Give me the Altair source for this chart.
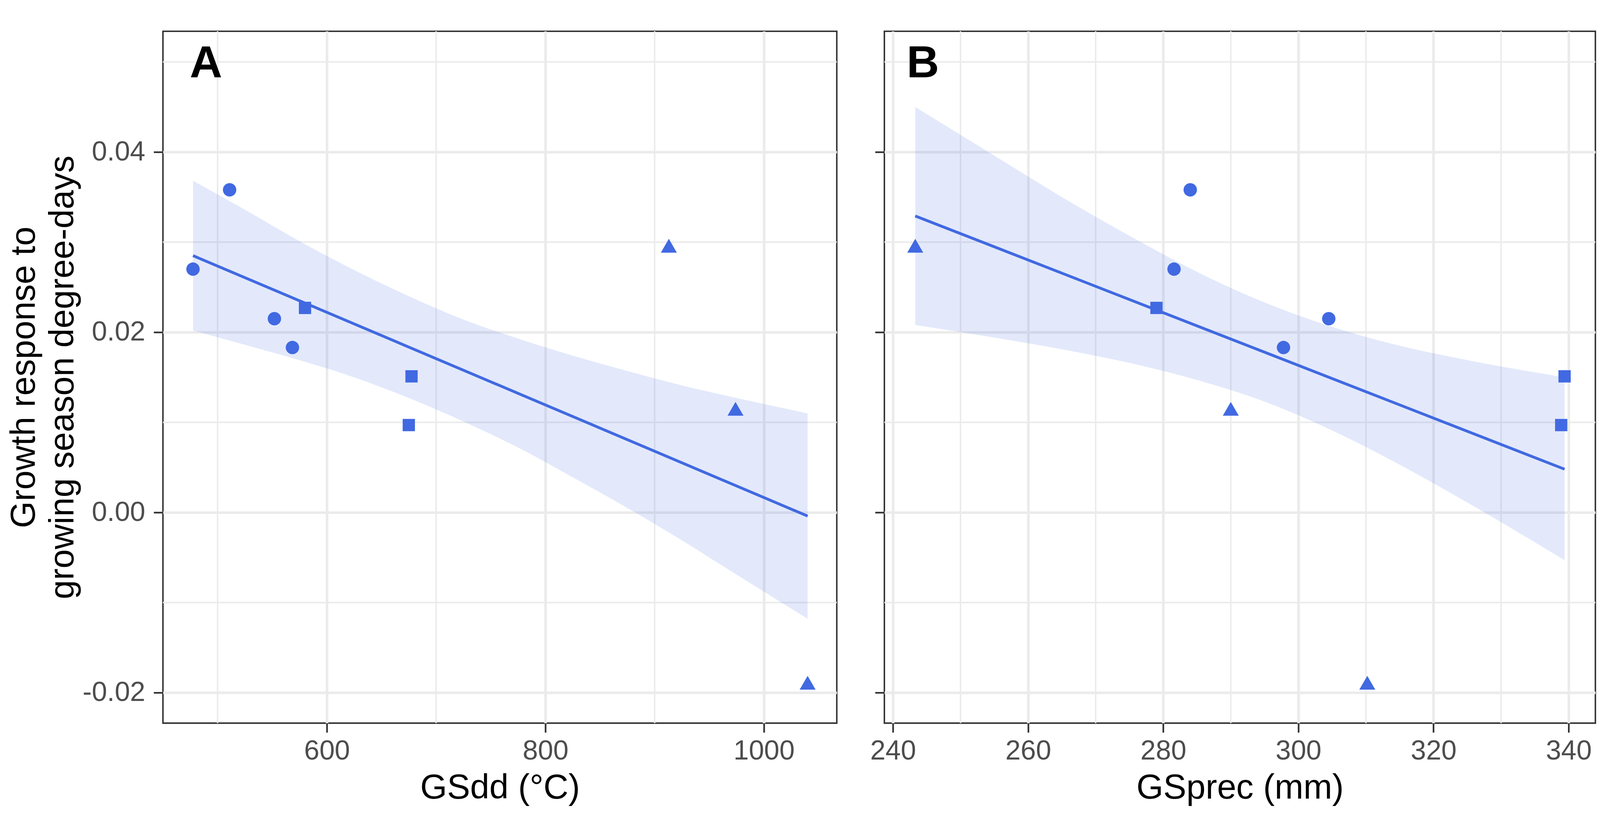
import altair as alt
import pandas as pd

# ---------------- data ----------------
site_group = ["Group 1", "Group 1", "Group 1", "Group 1", "Group 2",
              "Group 2", "Group 2", "Group 3", "Group 3", "Group 3"]
gsdd = [477.5, 511.0, 552.0, 568.5, 580.0, 677.5, 675.0, 913.0, 974.0, 1040.0]
gsprec = [281.6, 284.0, 304.5, 297.8, 279.0, 339.4, 338.9, 243.3, 290.0, 310.2]
response = [0.0270, 0.0358, 0.0215, 0.0183, 0.0227, 0.0151, 0.0097, 0.0296, 0.0115, -0.0189]

# fitted line and confidence band, panel A (GSdd)
fitA_x = [477.5, 1040.0]
fitA_y = [0.0285, -0.0004]
bandA_x = [477.5, 525, 575, 625, 675, 725, 775, 825, 875, 925, 975, 1040]
bandA_lo = [0.0202, 0.0186, 0.0169, 0.0150, 0.0127, 0.0101, 0.0072, 0.0039, 0.0005, -0.0031, -0.0069, -0.0118]
bandA_hi = [0.0368, 0.0336, 0.0301, 0.0269, 0.0240, 0.0214, 0.0193, 0.0174, 0.0157, 0.0141, 0.0127, 0.0110]

# fitted line and confidence band, panel B (GSprec)
fitB_x = [243.3, 339.4]
fitB_y = [0.0329, 0.0048]
bandB_x = [243.3, 255, 265, 275, 285, 295, 305, 315, 325, 339.4]
bandB_lo = [0.0208, 0.0194, 0.0181, 0.0166, 0.0147, 0.0123, 0.0091, 0.0053, 0.0011, -0.0053]
bandB_hi = [0.0450, 0.0396, 0.0350, 0.0307, 0.0267, 0.0233, 0.0206, 0.0185, 0.0169, 0.0150]

# axes
y_ticks = [-0.02, 0.0, 0.02, 0.04]
y_minor = [-0.01, 0.01, 0.03, 0.05]
xA_ticks = [600, 800, 1000]
xA_minor = [500, 700, 900]
xB_ticks = [240, 260, 280, 300, 320, 340]
xB_minor = [250, 270, 290, 310, 330]

y_title = ["Growth response to", "growing season degree-days"]

# group -> marker
groups = ["Group 1", "Group 2", "Group 3"]
group_shapes = ["circle", "square", "triangle-up"]
group_sizes = [1296, 1089, 1849]

# ---------------- styling ----------------
BLUE = "#4169E1"
GRID = "#EBEBEB"
DARK = "#333333"
FONT = "Liberation Sans"
Y_DOMAIN = [-0.02338, 0.0534]

y_label_expr = ("datum.value < 0 ? '-' + format(-datum.value, '.2f') "
                ": format(datum.value, '.2f')")


def make_axis_y(show_labels):
    common = dict(values=y_ticks, tickSize=25, tickWidth=4.5, tickColor=DARK,
                  domain=False, grid=True, gridColor=GRID, gridWidth=7)
    if show_labels:
        return alt.Axis(title=y_title, labelExpr=y_label_expr, labelFont=FONT,
                        labelFontSize=74, labelColor="#4D4D4D", labelPadding=23,
                        titleFont=FONT, titleFontSize=93, titleFontWeight="normal",
                        titleColor="black", titlePadding=21, titleLineHeight=104,
                        **common)
    return alt.Axis(title=None, labels=False, **common)


def make_axis_x(ticks, title):
    return alt.Axis(values=ticks, format="d", title=title, tickSize=25, tickWidth=4.5,
                    tickColor=DARK, domain=False, grid=True, gridColor=GRID,
                    gridWidth=7, labelFont=FONT, labelFontSize=74,
                    labelColor="#4D4D4D", labelPadding=14, labelFlush=False,
                    titleFont=FONT, titleFontSize=93, titleFontWeight="normal",
                    titleColor="black", titlePadding=18)


def panel(xvals, xdomain, xticks, xminor, fitx, fity, bx, blo, bhi,
          xtitle, letter, letter_x, show_y, width):
    sx = alt.Scale(domain=xdomain, nice=False, zero=False)
    sy = alt.Scale(domain=Y_DOMAIN, nice=False, zero=False)
    ax_x = make_axis_x(xticks, xtitle)
    ax_y = make_axis_y(show_y)
    X = alt.X("x:Q", scale=sx, axis=ax_x)
    Y = alt.Y("y:Q", scale=sy, axis=ax_y)

    pts = pd.DataFrame({"x": xvals, "y": response, "group": site_group})
    fit = pd.DataFrame({"x": fitx, "y": fity})
    band = pd.DataFrame({"x": bx, "y": blo, "y2": bhi})
    mx = pd.DataFrame({"x": xminor})
    my = pd.DataFrame({"y": y_minor})
    lab = pd.DataFrame({"label": [letter]})

    minor_v = alt.Chart(mx).mark_rule(color=GRID, strokeWidth=4).encode(x=X)
    minor_h = alt.Chart(my).mark_rule(color=GRID, strokeWidth=4).encode(y=Y)
    ribbon = alt.Chart(band).mark_area(color=BLUE, opacity=0.15,
                                       interpolate="monotone").encode(
        x=X, y=Y, y2="y2:Q")
    line = alt.Chart(fit).mark_line(color=BLUE, strokeWidth=7.5).encode(x=X, y=Y)
    point_layers = []
    for g, shp, sz in zip(groups, group_shapes, group_sizes):
        point_layers.append(
            alt.Chart(pts).transform_filter(alt.datum.group == g)
            .mark_point(filled=True, opacity=1, color=BLUE, strokeWidth=0,
                        shape=shp, size=sz)
            .encode(x=X, y=Y))
    text = alt.Chart(lab).mark_text(font=FONT, fontSize=121, fontWeight="bold",
                                    align="left", baseline="alphabetic",
                                    color="black").encode(
        text="label:N", x=alt.value(letter_x), y=alt.value(124))
    return alt.layer(minor_v, minor_h, ribbon, line, *point_layers, text).properties(
        width=width, height=1862)


chartA = panel(gsdd, [450.0, 1066.7], xA_ticks, xA_minor, fitA_x, fitA_y,
               bandA_x, bandA_lo, bandA_hi, "GSdd (°C)", "A", 72, True, 1813)
chartB = panel(gsprec, [238.73, 343.96], xB_ticks, xB_minor, fitB_x, fitB_y,
               bandB_x, bandB_lo, bandB_hi, "GSprec (mm)", "B", 60, False, 1913)

chart = alt.hconcat(chartA, chartB, spacing=83).properties(
    padding={"left": 9, "top": 18, "right": 0, "bottom": 0},
    background="white",
).configure_view(stroke=DARK, strokeWidth=4)

chart.save("out.html", embed_options={"renderer": "svg", "actions": False})
